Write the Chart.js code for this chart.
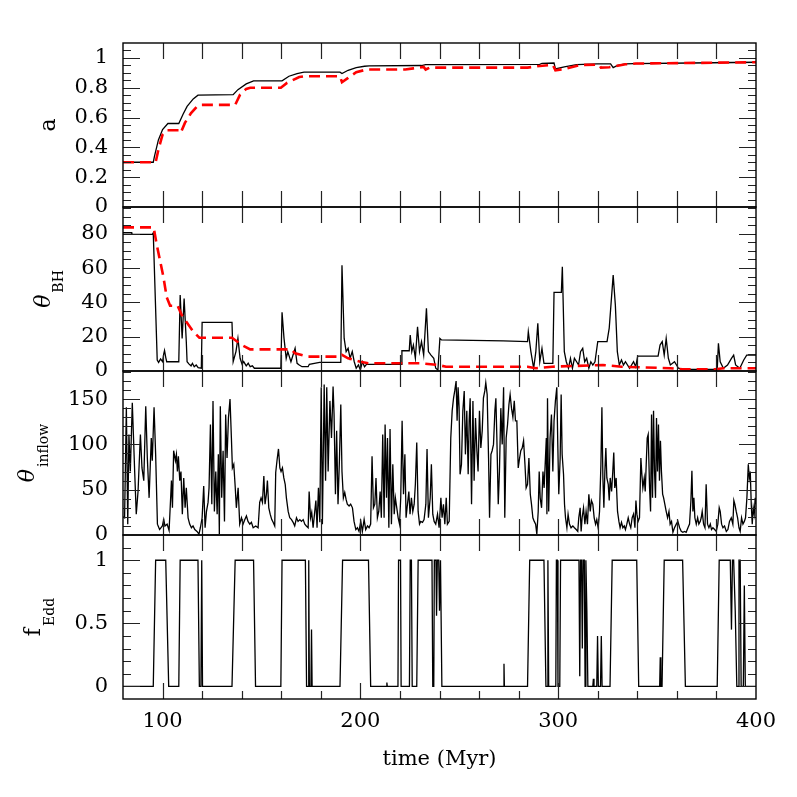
<!DOCTYPE html>
<html>
<head>
<meta charset="utf-8">
<title>spin evolution</title>
<script src="https://cdn.jsdelivr.net/npm/chart.js@4.4.1/dist/chart.umd.min.js"></script>
<style>
  html, body { margin: 0; padding: 0; background: #fff; overflow: hidden; }
  .panel { position: absolute; left: 0; width: 797px; }
  .panel canvas { display: block; }
</style>
</head>
<body>
<div class="panel" style="top:23px;height:204px"><canvas id="pA" width="797" height="204"></canvas></div>
<div class="panel" style="top:187px;height:204px"><canvas id="pBH" width="797" height="204"></canvas></div>
<div class="panel" style="top:351px;height:204px"><canvas id="pIn" width="797" height="204"></canvas></div>
<div class="panel" style="top:515px;height:282px"><canvas id="pEdd" width="797" height="282"></canvas></div>
<script>
// --- data ---
const xTicks = [100, 200, 300, 400];
const aTicks = [0, 0.2, 0.4, 0.6, 0.8, 1];
const bhTicks = [0, 20, 40, 60, 80];
const inflowTicks = [0, 50, 100, 150];
const eddTicks = [0, 0.5, 1];

// spin a (black solid)
const aTime = [80, 95.3, 95.9, 97.9, 100, 102.7, 108.2, 110.3, 112.4, 115.5, 117.9, 135.7, 138.1, 142.3, 146,
  160.4, 163.9, 168, 171.5, 189.7, 190.7, 193.8, 197.9, 202.1, 204.5, 230.9, 233, 290.7, 291.8, 297.9,
  298.6, 303.1, 309.3, 319.6, 326.5, 327.8, 330, 334, 338.1, 367, 400];
const aBlack = [0.30, 0.30, 0.34, 0.45, 0.52, 0.56, 0.56, 0.62, 0.675, 0.725, 0.75, 0.754, 0.787, 0.826, 0.846,
  0.846, 0.877, 0.895, 0.904, 0.904, 0.895, 0.917, 0.935, 0.944, 0.946, 0.949, 0.955, 0.957, 0.964, 0.966,
  0.926, 0.94, 0.955, 0.96, 0.96, 0.935, 0.95, 0.96, 0.962, 0.966, 0.971];
// spin a (red dashed)
const aRedTime = [80, 96.5, 97.9, 100, 102.1, 108.9, 109.3, 111.3, 114.4, 117.5, 119.6, 136.7, 139.2, 142.3,
  144.3, 159.8, 162.9, 169.1, 172.2, 189.7, 190.7, 193.8, 197.9, 203.1, 222.7, 226.8, 232, 233, 235.1,
  284.5, 290.7, 297.3, 298.6, 303.1, 311.3, 320.6, 321.6, 325.8, 334, 339.2, 400];
const aRed = [0.30, 0.30, 0.385, 0.485, 0.515, 0.515, 0.50, 0.564, 0.63, 0.675, 0.685, 0.685, 0.754, 0.792,
  0.80, 0.80, 0.832, 0.872, 0.877, 0.877, 0.837, 0.866, 0.904, 0.922, 0.922, 0.93, 0.94, 0.922, 0.935,
  0.935, 0.946, 0.953, 0.917, 0.926, 0.953, 0.955, 0.935, 0.937, 0.957, 0.962, 0.971];

// theta_BH (black solid)
const bhTime = [
  80, 84.4, 84.5, 94.8, 95.3, 97.3, 98, 99, 100, 100.6, 101, 101.6,
  102.1, 108.2, 108.9, 109.9, 110.9, 112, 112.4, 113.4, 114.4, 115.1,
  116, 117, 118, 119.6, 120, 135.1, 135.7, 137.1, 138.1, 139.2,
  140.2, 141, 142.3, 143.3, 144.3, 145.4, 146.4, 159.8, 160.4, 161.4,
  162.5, 163.3, 164.9, 167, 168, 169.1, 170.5, 173.6, 174.2, 179.4,
  190.1, 190.7, 191.8, 192.8, 193.8, 194.8, 195.9, 196.9, 197.9, 199,
  200, 201, 202.1, 203.1, 220.6, 221, 224.7, 225.2, 226, 226.8,
  227.8, 228.9, 229.9, 230.9, 232, 233.4, 234.4, 235.7, 237.1, 238.1,
  239.2, 240.2, 241, 272.2, 284.5, 284.9, 286.2, 287.6, 288.7, 289.7,
  290.7, 291.8, 292.8, 297.3, 297.9, 301.6, 302.1, 303.1, 304.1, 305.2,
  306.2, 307.2, 308.2, 309.3, 310.3, 311.3, 312.4, 313.4, 314.4, 315.5,
  316.5, 317.5, 318.6, 320, 324.7, 325.8, 327.8, 328.9, 329.9, 330.9,
  332, 333, 334, 336.1, 338.1, 339.2, 340.2, 350.5, 351.5, 352.6,
  353.6, 354.6, 355.7, 356.7, 358.8, 360.8, 362.9, 380.4, 381, 381.9,
  383.5, 385.6, 387.6, 388.7, 389.7, 391.8, 393.8, 395.3, 400];
const bhBlack = [
  80.6, 80.6, 79.6, 79.6, 80.5, 6.4, 5, 7, 5.5, 10, 12, 8,
  5.4, 5.4, 44.3, 19, 42.3, 17, 5.4, 4, 3, 4.5,
  2.5, 3.5, 2, 1.6, 28.4, 28.4, 5.4, 11.3, 19, 7.4,
  4, 5.5, 3, 4.5, 2.5, 3, 1.6, 1.6, 34.2, 19,
  7.4, 11.3, 5.4, 13.2, 4.5, 3.5, 2.5, 2.5, 3.9, 5,
  5, 61.7, 19, 11.3, 13.2, 7.4, 11.3, 5.4, 1.6, 3.5,
  0.6, 5.4, 2.5, 3.9, 3.9, 11.8, 11.8, 21, 11.3, 15.1,
  7.4, 25.8, 11.3, 17.1, 9.3, 36.5, 11.3, 9.3, 7.4, 1.6,
  0.6, 19, 18.1, 17.6, 17.1, 22.9, 11.3, 1.6, 11.3, 27.8,
  5.4, 13.2, 4.5, 4.5, 45.8, 45.8, 60.8, 11.3, 5.4, 1.6,
  7.4, 1.6, 7.4, 5.4, 3.5, 11.3, 13.2, 5.4, 7.4, 1.6,
  5.4, 3.5, 5.4, 17.1, 17.1, 25, 55.9, 38.4, 11.3, 3.5,
  6.4, 3.5, 5.4, 1.6, 5.4, 2.5, 8.7, 8.7, 15.1, 17.1,
  9.3, 19, 7.4, 3.5, 5.4, 1.6, 1, 1, 16.1, 5.4,
  1.6, 3.5, 7.4, 9.3, 3.5, 1.6, 6.4, 9.3, 9.3];
// theta_BH (red dashed)
const bhRedTime = [80, 95.5, 97, 100.4, 102.1, 103.8, 107.6, 109.7, 115.5, 118.6, 135.1,
  140.2, 144.3, 165, 167, 173.2, 189.7, 190.7, 193.8, 200, 204.1,
  230.9, 239.2, 243.3, 284.5, 288.7, 297, 322.6, 332, 356.7, 362.9,
  379.4, 383.5, 400];
const bhRed = [83.7, 83.7, 74, 55, 43, 38, 38, 32.6, 23, 19.4, 19.4,
  15.1, 12.6, 12.6, 10.3, 8.4, 8.4, 9.4, 7.4, 5.4, 4.5,
  4.5, 3.5, 2.5, 2.5, 1.6, 2.5, 3.5, 2.5, 1.6, 1,
  1, 1.6, 1.6];

// theta_inflow
const inflowTime = [
  80, 80.8, 81.7, 82.4, 83, 83.7, 84.7, 85.9, 86.7, 87.6,
  88.8, 89.6, 90.5, 91.5, 92.3, 93.2, 94.3, 94.8, 95.7, 96.5,
  97.4, 98.5, 99.9, 100.6, 101.2, 102.3, 103.3, 104.5, 105, 105.6,
  106.5, 107, 107.5, 108, 108.7, 109.3, 110, 110.7, 111.4, 112,
  112.9, 113.7, 114.6, 115.4, 116.3, 117.4, 118.4, 119.1, 120, 120.8,
  121.5, 122.2, 123, 123.5, 124.2, 124.9, 125.5, 126.2, 126.9, 127.6,
  128.2, 128.7, 129.2, 129.9, 130.6, 131.3, 131.9, 132.6, 133.3, 134.1,
  134.8, 135.3, 136, 136.7, 137.3, 138.2, 139, 139.9, 140.7, 141.6,
  142.4, 143.2, 144.1, 144.9, 145.8, 147.1, 148.3, 149.1, 149.8, 150.5,
  151.2, 151.8, 152.5, 153, 153.7, 154.4, 155.2, 155.9, 156.7, 157.2,
  157.9, 158.6, 159.3, 159.9, 160.6, 161.3, 162, 162.6, 163.5, 164.3,
  165.2, 166, 166.8, 167.7, 168.5, 169.4, 170.2, 171.1, 171.9, 172.7,
  173.6, 174.1, 174.8, 175.4, 176.1, 176.8, 177.5, 178.1, 178.8, 179.5,
  180.2, 180.8, 181.7, 182.4, 183, 183.7, 184.6, 185.4, 186.2, 186.7,
  187.4, 188, 188.7, 189.4, 190.1, 190.7, 191.4, 192.1, 192.8, 193.4,
  194.3, 195.1, 196, 196.8, 197.7, 198.5, 199.3, 200.2, 201, 201.9,
  202.7, 203.6, 204.4, 205.2, 205.9, 206.6, 207.3, 207.9, 208.6, 209.3,
  210, 210.6, 211.3, 212, 212.5, 213.2, 213.7, 214.4, 215, 215.7,
  216.4, 217.1, 217.7, 218.4, 219.1, 219.8, 220.4, 221.1, 221.8, 222.5,
  223.1, 223.8, 224.5, 225.1, 225.8, 226.5, 227.2, 227.8, 228.5, 229.2,
  229.9, 230.5, 231.4, 232.2, 233.1, 233.7, 234.4, 235.3, 235.9, 236.6,
  237.3, 238.1, 239, 239.8, 240.7, 241.3, 242, 242.7, 243.4, 244,
  244.9, 245.7, 246.4, 247.1, 247.7, 248.4, 248.9, 249.4, 249.9, 250.4,
  251.1, 251.8, 252.5, 253.1, 253.8, 254.5, 255, 255.5, 256.2, 256.9,
  257.5, 258.2, 258.9, 259.5, 260.2, 260.9, 261.6, 262.2, 262.9, 263.4,
  264.1, 264.8, 265.3, 266, 266.6, 267.3, 268, 268.5, 269, 269.7,
  270.3, 271, 271.7, 272.4, 273, 273.7, 274.4, 275.1, 275.7, 276.4,
  277.1, 277.8, 278.4, 279.1, 279.8, 280.5, 281.1, 281.8, 282.5, 283.2,
  283.8, 284.5, 285.2, 285.9, 286.5, 287.2, 287.9, 288.6, 289.2, 289.9,
  290.4, 290.9, 291.6, 292.3, 292.9, 294, 294.3, 294.6, 295.2, 295.9,
  296.6, 297.3, 297.9, 298.6, 299.3, 299.8, 300.3, 301, 301.5, 302,
  302.7, 303.2, 303.7, 304.4, 305, 305.7, 306.5, 307.4, 308.2, 309.1,
  309.9, 310.4, 311.1, 311.6, 312.1, 312.8, 313.5, 314.1, 314.8, 315.5,
  316.2, 316.8, 317.5, 318.2, 318.9, 319.5, 320.2, 320.9, 321.6, 322.1,
  322.6, 323.1, 323.6, 324.1, 324.6, 325.3, 325.8, 326.3, 327, 327.6,
  328.1, 328.6, 329.3, 330, 330.7, 331.3, 332, 332.7, 333.4, 334,
  334.7, 335.4, 336.1, 336.7, 337.4, 338.1, 338.8, 339.3, 339.8, 340.4,
  341.1, 341.8, 342.3, 342.8, 343.5, 344, 344.5, 345, 345.5, 346.2,
  346.7, 347.2, 347.7, 348.2, 348.7, 349.2, 349.7, 350.2, 350.7, 351.2,
  351.7, 352.2, 352.8, 353.3, 353.9, 354.6, 355.3, 356, 356.6, 357.3,
  358, 358.8, 359.7, 360.5, 361.4, 362.2, 363, 363.9, 364.7, 365.6,
  366.4, 367.1, 367.6, 368.1, 368.6, 369.1, 369.8, 370.5, 371.1, 371.8,
  372.3, 372.8, 373.5, 374.2, 374.8, 375.5, 376.2, 376.9, 377.5, 378.2,
  379.1, 379.9, 380.7, 381.4, 381.9, 382.6, 383.3, 384.1, 385, 385.8,
  386.6, 387.5, 388.3, 388.8, 389.3, 390, 390.7, 391.4, 392, 392.7,
  393.4, 394.1, 394.7, 395.4, 396.1, 396.6, 397.1, 397.6, 398.1, 398.6,
  399.1, 399.6, 400];
const inflow = [
  20, 19, 141, 12, 111, 70, 146, 70, 23, 48,
  111, 74, 60, 142, 85, 41, 107, 82, 141, 89,
  12, 6, 10, 17, 10, 12, 5, 60, 30, 93,
  82, 89, 70, 87, 60, 70, 23, 63, 30, 52,
  19, 12, 8, 10, 6, 4, 1, 8, 19, 54,
  8, 26, 36, 52, 122, 34, 148, 26, 70, 23,
  89, 1, 142, 41, 93, 15, 133, 85, 129, 150,
  107, 74, 78, 54, 30, 52, 12, 19, 12, 17,
  21, 15, 12, 14, 8, 10, 8, 36, 41, 36,
  65, 34, 45, 60, 30, 23, 17, 14, 10, 69,
  83, 95, 74, 70, 74, 63, 56, 41, 26, 19,
  17, 14, 10, 19, 15, 17, 15, 17, 12, 10,
  8, 48, 19, 25, 8, 23, 38, 8, 52, 14,
  163, 12, 166, 60, 163, 70, 148, 107, 164, 133,
  45, 115, 34, 82, 144, 70, 41, 47, 39, 34,
  32, 34, 30, 15, 6, 8, 4, 15, 4, 17,
  6, 10, 8, 12, 87, 30, 34, 63, 19, 26,
  48, 19, 111, 19, 122, 41, 107, 8, 117, 12,
  78, 23, 41, 30, 19, 12, 41, 126, 45, 89,
  19, 34, 48, 23, 41, 26, 34, 56, 102, 26,
  12, 15, 14, 17, 34, 95, 19, 41, 78, 23,
  15, 12, 23, 8, 41, 19, 34, 12, 41, 12,
  15, 107, 137, 151, 159, 170, 126, 163, 141, 67,
  78, 137, 159, 89, 137, 67, 126, 151, 34, 148,
  60, 129, 93, 70, 137, 96, 115, 151, 159, 168,
  155, 85, 19, 89, 93, 100, 137, 151, 107, 34,
  70, 140, 100, 163, 19, 107, 122, 144, 155, 140,
  130, 148, 126, 126, 74, 85, 93, 96, 104, 78,
  52, 56, 85, 45, 34, 19, 15, 12, 1, 26,
  70, 41, 30, 70, 52, 107, 23, 151, 26, 107,
  133, 70, 126, 148, 163, 100, 45, 85, 155, 89,
  67, 34, 19, 8, 23, 12, 8, 10, 8, 6,
  4, 19, 30, 4, 19, 30, 12, 26, 12, 45,
  26, 38, 34, 19, 12, 17, 8, 26, 78, 141,
  63, 30, 70, 96, 63, 56, 38, 63, 48, 70,
  91, 52, 63, 26, 15, 8, 14, 8, 10, 6,
  12, 19, 12, 8, 19, 23, 8, 38, 23, 15,
  19, 85, 67, 52, 63, 48, 78, 107, 111, 52,
  26, 133, 41, 137, 70, 41, 129, 70, 122, 60,
  104, 70, 45, 41, 34, 26, 19, 26, 12, 15,
  3, 8, 12, 15, 8, 4, 3, 4, 3, 8,
  12, 38, 71, 26, 41, 19, 12, 19, 12, 15,
  19, 26, 12, 8, 56, 12, 8, 12, 6, 8,
  6, 4, 12, 30, 26, 12, 8, 10, 4, 6,
  15, 19, 12, 38, 34, 26, 19, 8, 4, 19,
  12, 15, 19, 41, 78, 63, 70, 34, 12, 30,
  23, 41, 34];

// Eddington fraction
const eddTime = [
  80, 95.3, 96.5, 101.6, 103.1, 108.2, 108.9, 117.9, 118.6, 119.4,
  119.8, 120.2, 135.1, 136.7, 146, 147, 159.8, 160.4, 172.2, 172.8,
  173.6, 173.9, 174.2, 175, 175.3, 175.6, 189.7, 191, 204.1, 205.2,
  213.2, 213.4, 213.6, 219, 219.3, 220.3, 220.6, 224.8, 225.2, 225.8,
  226.2, 228.5, 229.2, 236.2, 236.6, 237.1, 237.4, 238.2, 238.5, 238.9,
  239.6, 240, 240.5, 241.2, 272.4, 272.6, 272.8, 284.5, 285.6, 292.8,
  293.8, 294.4, 294.8, 295.2, 298.8, 299.1, 299.6, 299.9, 300.8, 301.2,
  310.5, 310.9, 311.3, 311.8, 312.2, 312.6, 313.2, 313.6, 314, 314.5,
  315, 317.5, 317.8, 318.1, 319.5, 319.9, 320.3, 321.4, 321.8, 322.2,
  326.2, 327.3, 339.7, 340.7, 351.3, 351.6, 351.9, 352.5, 353.6, 362.9,
  364.3, 380.4, 381.4, 387, 387.6, 388.1, 388.7, 389.5, 390.3, 391,
  391.4, 392, 392.5, 393.6, 394.1, 394.6, 400];
const fEdd = [
  0, 0, 1, 1, 0, 0, 1, 1, 0, 0,
  1, 0, 0, 1, 1, 0, 0, 1, 1, 0,
  0, 1, 0, 0, 0.45, 0, 0, 1, 1, 0,
  0, 0.03, 0, 0, 1, 1, 0, 0, 1, 1,
  0, 0, 1, 1, 0, 0, 1, 1, 0.56, 1,
  1, 0.6, 1, 0, 0, 0.18, 0, 0, 1, 1,
  0, 0, 1, 0, 0, 1, 1, 0, 0, 1,
  1, 0.08, 1, 1, 0.3, 1, 1, 0, 1, 0.6,
  0, 0, 0.06, 0, 0, 0.4, 0, 0, 0.4, 0,
  0, 1, 1, 0, 0, 0.23, 0, 0, 1, 1,
  0, 0, 1, 1, 0.45, 1, 1, 0.6, 0, 0,
  1, 1, 0, 0, 0.8, 0, 0];

// --- drawing ---
const FONT = '"DejaVu Serif", "Liberation Serif", serif';
const tickFont = { family: FONT, size: 21 };

function pts(t, v) {
  return t.map((x, i) => ({ x: x, y: v[i] }));
}

// frame box plus inward ticks on all four sides
const frameTicks = {
  id: 'frameTicks',
  afterDatasetsDraw(chart, args, o) {
    const { ctx, chartArea: a, scales: { x, y } } = chart;
    ctx.save();
    ctx.strokeStyle = '#222';
    ctx.lineWidth = 1.2;
    ctx.beginPath();
    // y ticks, left and right
    const n = Math.round((o.yMax - o.yMin) / o.yMinor);
    for (let k = 0; k <= n; k++) {
      const v = o.yMin + k * o.yMinor;
      const r = v / o.yMajor;
      const len = Math.abs(r - Math.round(r)) < 1e-6 ? 17 : 8;
      const py = Math.round(y.getPixelForValue(v)) + 0.5;
      if (py <= a.top + 1 || py >= a.bottom - 1) continue;
      ctx.moveTo(a.left, py); ctx.lineTo(a.left + len, py);
      ctx.moveTo(a.right, py); ctx.lineTo(a.right - len, py);
    }
    // x ticks every 20 Myr
    for (let v = 100; v < 400; v += 20) {
      const px = Math.round(x.getPixelForValue(v)) + 0.5;
      const major = v % 100 === 0;
      ctx.moveTo(px, a.top); ctx.lineTo(px, a.top + 16);
      const lb = (o.labelled && !major) ? 8 : 16;
      ctx.moveTo(px, a.bottom); ctx.lineTo(px, a.bottom - lb);
    }
    ctx.stroke();
    ctx.strokeStyle = '#000';
    ctx.lineWidth = 1.4;
    ctx.strokeRect(a.left, a.top, a.right - a.left, a.bottom - a.top);
    ctx.restore();
  }
};

// rotated axis name with a subscript
const yName = {
  id: 'yName',
  afterDraw(chart, args, o) {
    const { ctx, chartArea: a } = chart;
    const mainFont = (o.italic ? 'italic ' : '') + '22px ' + FONT;
    const subFont = '14px ' + FONT;
    ctx.save();
    ctx.font = mainFont;
    const w1 = ctx.measureText(o.main).width;
    ctx.font = subFont;
    const w2 = o.sub ? ctx.measureText(o.sub).width + 2 : 0;
    ctx.translate(o.x, (a.top + a.bottom) / 2);
    ctx.rotate(-Math.PI / 2);
    ctx.fillStyle = '#000';
    ctx.textBaseline = 'alphabetic';
    ctx.textAlign = 'left';
    const x0 = -(w1 + w2) / 2;
    ctx.font = mainFont;
    ctx.fillText(o.main, x0, 0);
    if (o.sub) {
      ctx.font = subFont;
      ctx.fillText(o.sub, x0 + w1 + 2, o.subDy);
    }
    ctx.restore();
  }
};

// keep tick labels from pushing the plot area around
function noPad(s) {
  s.paddingTop = 0; s.paddingBottom = 0; s.paddingLeft = 0; s.paddingRight = 0;
}

function panel(id, datasets, ymin, ymax, yticks, minor, major, name, labelled) {
  return new Chart(document.getElementById(id), {
    type: 'line',
    data: { datasets: datasets },
    options: {
      responsive: false,
      devicePixelRatio: 1,
      animation: false,
      layout: { padding: { left: 0, right: 41, top: 20, bottom: labelled ? 0 : 20 } },
      elements: { point: { radius: 0 }, line: { tension: 0 } },
      plugins: {
        legend: { display: false },
        tooltip: { enabled: false },
        frameTicks: { yMin: ymin, yMax: ymax, yMinor: minor, yMajor: major, labelled: labelled },
        yName: name
      },
      scales: {
        x: {
          type: 'linear', min: 80, max: 400, display: labelled,
          grid: { display: false, drawTicks: false },
          border: { display: false },
          afterBuildTicks: s => { s.ticks = xTicks.map(v => ({ value: v })); },
          afterFit: s => { noPad(s); if (labelled) s.height = 98; else s.height = 0; },
          ticks: { font: tickFont, color: '#000', padding: 10, maxRotation: 0, autoSkip: false,
                   callback: v => String(v) },
          title: { display: true, text: 'time (Myr)', font: tickFont, color: '#000',
                   padding: { top: 0, bottom: 25 } }
        },
        y: {
          type: 'linear', min: ymin, max: ymax,
          grid: { display: false, drawTicks: false },
          border: { display: false },
          afterBuildTicks: s => { s.ticks = yticks.map(v => ({ value: v })); },
          afterFit: s => { noPad(s); s.width = 123; },
          ticks: { font: tickFont, color: '#000', padding: 15, autoSkip: false,
                   callback: v => String(v) }
        }
      }
    },
    plugins: [frameTicks, yName]
  });
}

const red = { borderColor: '#ff0000', borderWidth: 2.6, borderDash: [11, 6] };
const black = { borderColor: '#000', borderWidth: 1.3 };

panel('pA', [
  Object.assign({ data: pts(aRedTime, aRed) }, red),
  Object.assign({ data: pts(aTime, aBlack) }, black)
], 0, 1.1, aTicks, 0.05, 0.2, { main: 'a', sub: '', x: 55, subDy: 0 }, false);

panel('pBH', [
  Object.assign({ data: pts(bhRedTime, bhRed) }, red),
  Object.assign({ data: pts(bhTime, bhBlack) }, black)
], 0, 95.6, bhTicks, 5, 20, { main: 'θ', italic: true, sub: 'BH', x: 50, subDy: 13 }, false);

panel('pIn', [
  Object.assign({ data: pts(inflowTime, inflow) }, black)
], 0, 181, inflowTicks, 10, 50, { main: 'θ', italic: true, sub: 'inflow', x: 34, subDy: 14 }, false);

panel('pEdd', [
  Object.assign({ data: pts(eddTime, fEdd) }, black)
], -0.1, 1.2, eddTicks, 0.1, 0.5, { main: 'f', sub: 'Edd', x: 40, subDy: 14 }, true);
</script>
</body>
</html>
